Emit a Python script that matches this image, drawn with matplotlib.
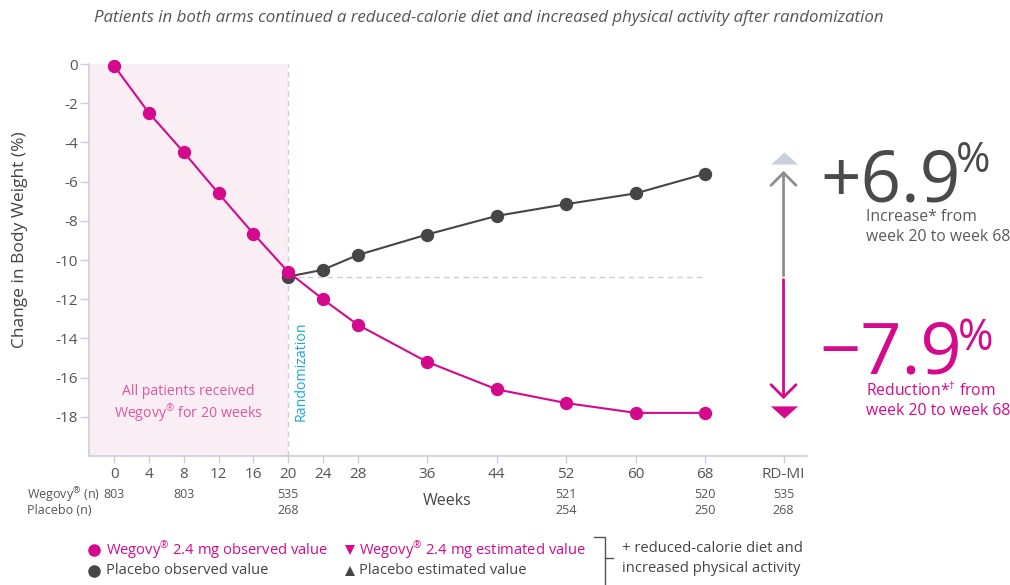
import matplotlib
matplotlib.use("Agg")
import matplotlib.pyplot as plt

plt.rcParams['font.family'] = ['Open Sans', 'DejaVu Sans']
plt.rcParams['mathtext.fontset'] = 'custom'
plt.rcParams['mathtext.rm'] = 'Open Sans'
plt.rcParams['mathtext.it'] = 'Open Sans:italic'
plt.rcParams['mathtext.bf'] = 'Open Sans:bold'

# ---------------- data ----------------
weeks_wegovy = [0, 4, 8, 12, 16, 20, 24, 28, 36, 44, 52, 60, 68]
wegovy_obs = [-0.1, -2.5, -4.5, -6.6, -8.65, -10.6, -12.0, -13.3, -15.2, -16.6, -17.3, -17.8, -17.8]
weeks_placebo = [20, 24, 28, 36, 44, 52, 60, 68]
placebo_obs = [-10.85, -10.5, -9.75, -8.7, -7.75, -7.15, -6.6, -5.6]

rdmi_week = 77
placebo_est = -4.8
wegovy_est = -17.75
baseline_rand = -10.85
arrow_up = (-10.8, -5.45)
arrow_down = (-11.0, -17.1)

xtick_pos = [0, 4, 8, 12, 16, 20, 24, 28, 36, 44, 52, 60, 68, 77]
xtick_labels = ['0', '4', '8', '12', '16', '20', '24', '28', '36', '44', '52', '60', '68', 'RD-MI']
ytick_pos = [0, -2, -4, -6, -8, -10, -12, -14, -16, -18]
ytick_labels = ['0', '-2', '-4', '-6', '-8', '-10', '-12', '-14', '-16', '-18']

n_pos = [0, 8, 20, 52, 68, 77]
n_wegovy = ['803', '803', '535', '521', '520', '535']
n_placebo = ['', '', '268', '254', '250', '268']

# ---------------- style ----------------
MAG = '#d4098c'
DARK = '#464646'
TXT = '#555555'
SPINE = '#c9cfdc'
PINK_BG = '#f9eef4'
CYAN = '#1aa7d8'
PINK_TXT = '#e2559f'
REG = '$^{\\mathregular{®}}$'

W, H = 1010, 585
fig = plt.figure(figsize=(W / 100, H / 100), dpi=100)

def fx(px):
    return px / W

def fy(py):
    return 1 - py / H

L, R, T, B = 89, 807, 64, 456
XMIN, XMAX = -2.9, 79.7
ax = fig.add_axes([fx(L), fy(B), (R - L) / W, (B - T) / H])
ax.set_xlim(XMIN, XMAX)
ax.set_ylim(-20, 0)

ax.axvspan(XMIN, 20, color=PINK_BG, zorder=0, lw=0)
ax.axvline(20, color=SPINE, lw=1, dashes=(4, 3), zorder=1)
ax.plot([20, 68], [baseline_rand, baseline_rand], color=SPINE, lw=1, dashes=(4, 3), zorder=1)

ax.plot(weeks_placebo, placebo_obs, color=DARK, lw=1.5, marker='o', ms=8.6,
        zorder=3, clip_on=False)
ax.plot(weeks_wegovy, wegovy_obs, color=MAG, lw=1.5, marker='o', ms=8.6,
        zorder=4, clip_on=False)

tri_up = [(-1, -0.45), (1, -0.45), (0, 0.45)]
tri_dn = [(-1, 0.45), (1, 0.45), (0, -0.45)]
ax.plot([rdmi_week], [placebo_est], ls='none', marker=tri_up, ms=19.5,
        color='#c8d0dc', mew=0, zorder=4, clip_on=False)
ax.plot([rdmi_week], [wegovy_est], ls='none', marker=tri_dn, ms=19.5,
        color=MAG, mew=0, zorder=4, clip_on=False)

ax.annotate('', xy=(rdmi_week, arrow_up[1]), xytext=(rdmi_week, arrow_up[0]),
            arrowprops=dict(arrowstyle='->,head_length=0.45,head_width=0.45',
                            color='#8e8e8e', lw=2, mutation_scale=20,
                            shrinkA=0, shrinkB=0))
ax.annotate('', xy=(rdmi_week, arrow_down[1]), xytext=(rdmi_week, arrow_down[0]),
            arrowprops=dict(arrowstyle='->,head_length=0.45,head_width=0.45',
                            color=MAG, lw=2, mutation_scale=20,
                            shrinkA=0, shrinkB=0))

ax.text(20.6, -18.2, 'Randomization', rotation=90, color=CYAN, fontsize=10.2,
        ha='left', va='bottom')
ax.text(8.5, -17.35, 'All patients received\nWegovy' + REG + ' for 20 weeks',
        color=PINK_TXT, fontsize=10.2, ha='center', va='center', linespacing=1.25)

for s in ['top', 'right']:
    ax.spines[s].set_visible(False)
for s in ['left', 'bottom']:
    ax.spines[s].set_color(SPINE)
    ax.spines[s].set_linewidth(1.2)

ax.set_xticks(xtick_pos)
ax.set_xticklabels(xtick_labels)
ax.set_yticks(ytick_pos)
ax.set_yticklabels(ytick_labels)
ax.tick_params(axis='x', colors=SPINE, labelcolor=TXT, length=5, width=1,
               labelsize=11, pad=3)
ax.tick_params(axis='y', colors=SPINE, labelcolor=TXT, length=6.5, width=1,
               labelsize=11, pad=1.5)

# overlay in pixel coordinates
ov = fig.add_axes([0, 0, 1, 1], facecolor='none')
ov.set_xlim(0, W)
ov.set_ylim(H, 0)
ov.axis('off')

ov.text(20, 240, 'Change in Body Weight (%)', rotation=90, fontsize=12.5,
        color='#444444', ha='center', va='center')

ov.text(489, 18, 'Patients in both arms continued a reduced-calorie diet and increased physical activity after randomization',
        fontsize=12.2, style='italic', color=TXT, ha='center', va='center')

# n rows
ov.text(27, 495, 'Wegovy' + REG + ' (n)', fontsize=9, color=TXT, ha='left', va='center')
ov.text(27, 511, 'Placebo (n)', fontsize=9, color=TXT, ha='left', va='center')
for p, a, b in zip(n_pos, n_wegovy, n_placebo):
    px = L + (p - XMIN) / (XMAX - XMIN) * (R - L)
    ov.text(px, 495, a, fontsize=9, color=TXT, ha='center', va='center')
    if b:
        ov.text(px, 511, b, fontsize=9, color=TXT, ha='center', va='center')
ov.text(447, 501, 'Weeks', fontsize=11.5, color='#444444', ha='center', va='center')

# big numbers
fig.canvas.draw()
rend = fig.canvas.get_renderer()

def big(x, ybase, s, size, pct_size, pct_base, color):
    t = ov.text(x, ybase, s, fontsize=size, color=color, ha='left', va='baseline')
    bb = t.get_window_extent(rend)
    ov.text(bb.x1 - 4, pct_base, '%', fontsize=pct_size, color=color,
            ha='left', va='baseline')

big(820, 201.5, '+6.9', 51, 30, 172, '#4a4a4a')
big(819, 373, '\u22127.9', 52, 31, 350, MAG)

ov.text(866, 217, 'Increase* from', fontsize=11.3, color='#5a5a5a', ha='left', va='center')
ov.text(866, 237, 'week 20 to week 68', fontsize=11.3, color='#5a5a5a', ha='left', va='center')
ov.text(866, 391, 'Reduction*$^{\\mathregular{†}}$ from', fontsize=11.3, color=MAG,
        ha='left', va='center')
ov.text(866, 411, 'week 20 to week 68', fontsize=11.3, color=MAG, ha='left', va='center')

# legend
ov.plot([94], [550], marker='o', ms=8, color=MAG, ls='none')
ov.text(106, 550, 'Wegovy' + REG + ' 2.4 mg observed value', fontsize=10.6,
        color=MAG, ha='left', va='center')
ov.plot([94], [571], marker='o', ms=8, color=DARK, ls='none')
ov.text(106, 571, 'Placebo observed value', fontsize=10.6, color='#444444',
        ha='left', va='center')
ov.plot([350], [550], marker='v', ms=7.5, color=MAG, ls='none', mew=0)
ov.text(359, 550, 'Wegovy' + REG + ' 2.4 mg estimated value', fontsize=10.6,
        color=MAG, ha='left', va='center')
ov.plot([350], [571], marker='^', ms=7.5, color=DARK, ls='none', mew=0)
ov.text(359, 571, 'Placebo estimated value', fontsize=10.6, color='#444444',
        ha='left', va='center')

ov.plot([594, 605, 605], [537, 537, 585], color='#555555', lw=1)
ov.plot([605, 613], [558, 558], color='#555555', lw=1)
ov.text(622, 549, '+ reduced-calorie diet and', fontsize=10.6, color='#444444',
        ha='left', va='center')
ov.text(622, 568, 'increased physical activity', fontsize=10.6, color='#444444',
        ha='left', va='center')

fig.savefig('out.png', dpi=100)
